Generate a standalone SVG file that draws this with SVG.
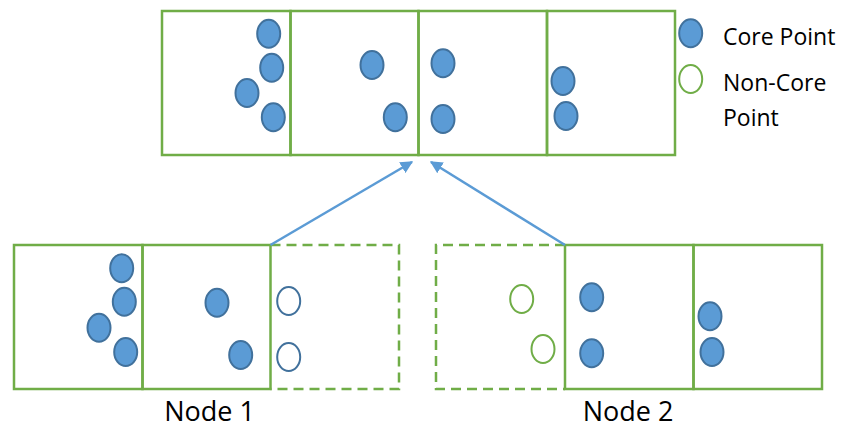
<svg xmlns="http://www.w3.org/2000/svg" width="846" height="429" viewBox="0 0 846 429">
<defs>
<style>
.cell{fill:none;stroke:#70ad47;stroke-width:2.5}
.dash{fill:none;stroke:#70ad47;stroke-width:2.5;stroke-dasharray:10 6}
.core{fill:#5b9bd5;stroke:#41719c;stroke-width:2}
.ncb{fill:#fff;stroke:#41719c;stroke-width:2}
.ncg{fill:#fff;stroke:#70ad47;stroke-width:2}
.lbl{font-family:"Open Sans","Segoe UI",sans-serif;fill:#000}
.conn{stroke:#5b9bd5;stroke-width:2.5;fill:none}
</style>
<marker id="ah" viewBox="0 0 10 10" refX="9" refY="5" markerWidth="5" markerHeight="5" orient="auto" markerUnits="strokeWidth">
<path d="M0,0 L10,5 L0,10 z" fill="#5b9bd5"/>
</marker>
</defs>
<rect width="846" height="429" fill="#fff"/>
<g id="merged">
<rect class="cell" x="162" y="11" width="128.5" height="144"/>
<rect class="cell" x="290.5" y="11" width="128" height="144"/>
<rect class="cell" x="418.5" y="11" width="128.5" height="144"/>
<rect class="cell" x="547" y="11" width="128" height="144"/>
<ellipse class="core" cx="268.7" cy="33.7" rx="11.5" ry="14"/>
<ellipse class="core" cx="271.7" cy="67.7" rx="11.5" ry="14"/>
<ellipse class="core" cx="247" cy="93" rx="11.5" ry="14"/>
<ellipse class="core" cx="273.3" cy="117.3" rx="11.5" ry="14"/>
<ellipse class="core" cx="372" cy="65" rx="11.5" ry="14"/>
<ellipse class="core" cx="395.3" cy="117.3" rx="11.5" ry="14"/>
<ellipse class="core" cx="443" cy="63.3" rx="11.5" ry="14"/>
<ellipse class="core" cx="443" cy="119" rx="11.5" ry="14"/>
<ellipse class="core" cx="563" cy="81" rx="11.5" ry="14"/>
<ellipse class="core" cx="566" cy="116" rx="11.5" ry="14"/>
</g>
<g id="legend">
<ellipse class="core" cx="690.7" cy="33.3" rx="11.5" ry="14"/>
<text class="lbl" x="723" y="45" font-size="23">Core Point</text>
<ellipse class="ncg" cx="690.7" cy="79" rx="11.5" ry="14"/>
<text class="lbl" x="723" y="91" font-size="23">Non-Core</text>
<text class="lbl" x="723" y="126" font-size="23">Point</text>
</g>
<g id="node1">
<rect class="cell" x="14" y="245" width="128.5" height="144"/>
<rect class="cell" x="142.5" y="245" width="128" height="144"/>
<path class="dash" d="M270.5,245 H399 V389 H270.5"/>
<ellipse class="core" cx="121.7" cy="268.3" rx="11.5" ry="14"/>
<ellipse class="core" cx="124.3" cy="301.7" rx="11.5" ry="14"/>
<ellipse class="core" cx="99" cy="327.7" rx="11.5" ry="14"/>
<ellipse class="core" cx="125.7" cy="352" rx="11.5" ry="14"/>
<ellipse class="core" cx="217" cy="302.7" rx="11.5" ry="14"/>
<ellipse class="core" cx="240.7" cy="355" rx="11.5" ry="14"/>
<ellipse class="ncb" cx="288.7" cy="301" rx="11.5" ry="14"/>
<ellipse class="ncb" cx="288.7" cy="357" rx="11.5" ry="14"/>
<text class="lbl" x="209.5" y="421" font-size="27" text-anchor="middle">Node 1</text>
</g>
<g id="node2">
<path class="dash" d="M565,245 H436 V389 H565"/>
<rect class="cell" x="565" y="245" width="128.5" height="144"/>
<rect class="cell" x="693.5" y="245" width="128.5" height="144"/>
<ellipse class="ncg" cx="521.7" cy="299" rx="11.5" ry="14"/>
<ellipse class="ncg" cx="543" cy="349" rx="11.5" ry="14"/>
<ellipse class="core" cx="591.7" cy="297.3" rx="11.5" ry="14"/>
<ellipse class="core" cx="591.7" cy="353.3" rx="11.5" ry="14"/>
<ellipse class="core" cx="710" cy="316.3" rx="11.5" ry="14"/>
<ellipse class="core" cx="712" cy="352" rx="11.5" ry="14"/>
<text class="lbl" x="628" y="421" font-size="27" text-anchor="middle">Node 2</text>
</g>
<g id="connectors">
<line class="conn" x1="270.5" y1="245" x2="412" y2="162" marker-end="url(#ah)"/>
<line class="conn" x1="565" y1="245" x2="431" y2="162" marker-end="url(#ah)"/>
</g>
</svg>
